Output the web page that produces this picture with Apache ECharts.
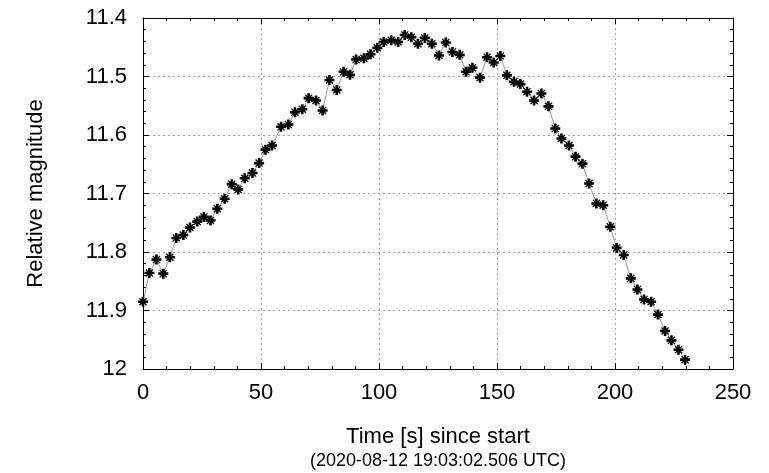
<!DOCTYPE html>
<html>
<head>
<meta charset="utf-8">
<script src="https://cdn.jsdelivr.net/npm/echarts@6/dist/echarts.min.js"></script>
<style>
  html, body { margin: 0; padding: 0; background: #fff; }
  #chart { width: 769px; height: 473px; }
</style>
</head>
<body>
<div id="chart"></div>
<script>
// time since start [s]
var times = [0, 2.7, 5.7, 8.6, 11.4, 14.1, 17.1, 19.9, 23.0, 25.8,
  28.6, 31.5, 34.6, 37.6, 40.3, 43.1, 46.4, 49.2, 51.9, 54.7,
  58.5, 61.6, 64.4, 67.5, 70.2, 73.3, 76.1, 79.0, 82.1, 85.0,
  87.7, 90.3, 93.6, 96.4, 99.3, 102.0, 105.2, 108.1, 110.9, 113.7,
  116.5, 119.4, 122.4, 125.4, 128.3, 131.1, 134.2, 136.9, 139.6, 142.8,
  145.8, 148.6, 151.4, 154.2, 157.2, 159.9, 162.7, 165.7, 168.8, 171.8,
  174.7, 177.3, 180.5, 183.3, 186.2, 189.0, 192.1, 195.0, 198.0, 200.7,
  203.7, 206.7, 209.5, 212.3, 215.3, 218.2, 221.2, 223.9, 226.9, 229.7];

// relative magnitude
var mags = [11.885, 11.836, 11.813, 11.837, 11.809, 11.776, 11.771, 11.758, 11.748, 11.740,
  11.746, 11.726, 11.709, 11.684, 11.693, 11.674, 11.665, 11.648, 11.625, 11.618,
  11.586, 11.582, 11.561, 11.556, 11.537, 11.541, 11.558, 11.506, 11.523, 11.492,
  11.497, 11.471, 11.469, 11.462, 11.451, 11.441, 11.438, 11.441, 11.429, 11.433,
  11.444, 11.434, 11.444, 11.464, 11.442, 11.458, 11.463, 11.492, 11.485, 11.502,
  11.467, 11.476, 11.465, 11.498, 11.509, 11.513, 11.526, 11.541, 11.529, 11.551,
  11.589, 11.606, 11.618, 11.637, 11.649, 11.683, 11.717, 11.720, 11.757, 11.793,
  11.805, 11.845, 11.864, 11.881, 11.885, 11.907, 11.935, 11.951, 11.967, 11.984];

var xRange = [0, 250];
var xStep = 50;
var yRange = [11.4, 12];
var yStep = 0.1;

var font = '"Liberation Sans", Arial, sans-serif';

var points = [];
for (var i = 0; i < times.length; i++) {
  points.push([times[i], mags[i]]);
}

// thick plus with thinner diagonals (gnuplot-like star)
var markPath = 'path://M3.7,0H6.3V3.7H10V6.3H6.3V10H3.7V6.3H0V3.7H3.7Z M1,1.9L1.9,1L9,8.1L8.1,9Z M8.1,1L9,1.9L1.9,9L1,8.1Z';

function frameAxis(pos, isX) {
  var a = {
    type: 'value',
    position: pos,
    min: isX ? xRange[0] : yRange[0],
    max: isX ? xRange[1] : yRange[1],
    interval: isX ? xStep : yStep,
    axisLine: { show: true, onZero: false, lineStyle: { color: '#000', width: 1 } },
    axisTick: { show: true, inside: true, length: 6, lineStyle: { color: '#000' } },
    minorTick: { show: true, splitNumber: 5, length: 3, lineStyle: { color: '#000' } },
    splitLine: { show: false },
    axisLabel: { show: false }
  };
  if (!isX) a.inverse = true;
  return a;
}

var xMain = frameAxis('bottom', true);
xMain.axisLabel = { show: true, color: '#000', fontSize: 22, fontFamily: font, margin: 13 };
xMain.splitLine = { show: true, lineStyle: { color: '#a0a0a0', type: [2, 3], width: 1 } };
xMain.name = '{a|Time [s] since start}\n{b|(2020-08-12 19:03:02.506 UTC)}';
xMain.nameLocation = 'middle';
xMain.nameGap = 55;
xMain.nameTextStyle = {
  color: '#000', fontFamily: font,
  rich: {
    a: { fontSize: 22, lineHeight: 25, fontFamily: font, color: '#000' },
    b: { fontSize: 18, lineHeight: 24, fontFamily: font, color: '#000' }
  }
};

var yMain = frameAxis('left', false);
yMain.axisLabel = {
  show: true, color: '#000', fontSize: 22, fontFamily: font, margin: 16,
  formatter: function (v) { return String(+v.toFixed(1)); }
};
yMain.splitLine = { show: true, lineStyle: { color: '#a0a0a0', type: [2, 3], width: 1 } };
yMain.name = 'Relative magnitude';
yMain.nameLocation = 'middle';
yMain.nameGap = 96;
yMain.nameTextStyle = { color: '#000', fontSize: 22, fontFamily: font };

var option = {
  animation: false,
  backgroundColor: '#fff',
  grid: { left: 143, right: 36, top: 18, bottom: 104, containLabel: false, outerBoundsMode: 'none' },
  xAxis: [xMain, frameAxis('top', true)],
  yAxis: [yMain, frameAxis('right', false)],
  series: [{
    type: 'line',
    data: points,
    xAxisIndex: 0,
    yAxisIndex: 0,
    symbol: markPath,
    symbolSize: 10,
    showSymbol: true,
    lineStyle: { color: '#9a9a9a', width: 1 },
    itemStyle: { color: '#000', borderWidth: 0 }
  }]
};

var myChart = echarts.init(document.getElementById('chart'), null, { renderer: 'canvas' });
myChart.setOption(option);
</script>
</body>
</html>
